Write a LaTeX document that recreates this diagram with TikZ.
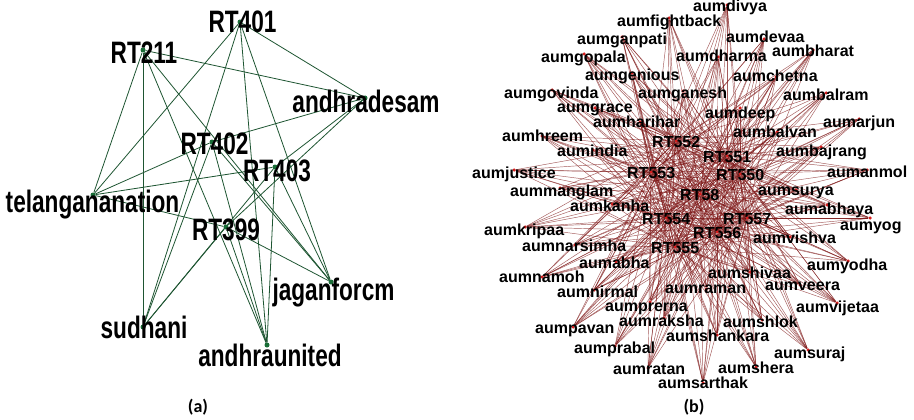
\documentclass[tikz,border=0pt]{standalone}
\usepackage{fontspec}
\setmainfont{Liberation Sans}
\newfontfamily\narrowsans{Liberation Sans}[FakeStretch=0.73]
\newfontfamily\capfont{Carlito}
\pgfdeclarelayer{background}
\pgfsetlayers{background,main}
\definecolor{gline}{RGB}{30,85,50}
\definecolor{gfill}{RGB}{25,110,55}
\definecolor{rline}{RGB}{125,20,20}
\definecolor{rfill}{RGB}{215,30,30}
\tikzset{
  gdot/.style={circle,fill=gfill,inner sep=0pt,minimum size=5pt},
  rdot/.style={circle,fill=rfill,inner sep=0pt,minimum size=3.5pt},
  gedge/.style={draw=gline,line width=0.8pt},
  redge/.style={draw=rline,line width=0.45pt,draw opacity=0.7},
  glab/.style={anchor=base,inner sep=0pt,font=\narrowsans\bfseries\fontsize{31}{31}\selectfont},
  rtlab/.style={anchor=base west,inner sep=0pt,font=\bfseries\fontsize{16}{16}\selectfont},
  caplab/.style={anchor=base,inner sep=0pt,font=\capfont\bfseries\fontsize{18}{18}\selectfont}
}
\begin{document}
\begin{tikzpicture}[x=1pt,y=-1pt]
\useasboundingbox (0,0) rectangle (914,420);
\begin{pgfonlayer}{background}
\fill[white] (0,0) rectangle (914,420);
\end{pgfonlayer}

% ---------- graph (a): retweeters and hashtags ----------
\foreach \n/\x/\y in {RT401/240/22, RT211/143/50, RT402/212/142, RT403/275/167, RT399/226/227,
  andhradesam/365/98, telangananation/93/195, jaganforcm/331/282, sudhani/143/327, andhraunited/267/345}
  \node[gdot] (\n) at (\x,\y) {};

\begin{pgfonlayer}{background}
\foreach \r in {RT401,RT211,RT402,RT403,RT399}
  \foreach \h in {andhradesam,telangananation,jaganforcm,sudhani,andhraunited}
    \draw[gedge] (\r) -- (\h);
\end{pgfonlayer}

\foreach \n/\x/\y in {RT401/242.5/33, RT211/144/64, andhradesam/366/113, RT402/214.5/154,
  RT403/277/181, telangananation/92.5/212, RT399/226/240, jaganforcm/333.5/300,
  sudhani/144/338, andhraunited/270/366}
  \node[glab] (lab\n) at (\x,\y) {\n};

\node[caplab] (capa) at (198,412) {(a)};

% ---------- graph (b): RT accounts and aum accounts ----------
\foreach \n/\x/\y in {552/652/147, 551/703/162, 550/716/180, 553/627/178, 58/680/200,
  554/642/224, 557/723/224, 556/693/238, 555/651/253}
  \node[rtlab] (labRT\n) at (\x,\y) {RT\n};

\foreach \n/\x/\y in {552/676/141, 551/727/156, 550/740/174, 553/651/172, 58/700/194,
  554/666/218, 557/747/218, 556/717/232, 555/675/247}
  \node[rdot] (RT\n) at (\x,\y) {};

\foreach \n/\dx/\dy/\lx/\ly in {
  fightback/669/18/617/27, ganpati/622/37/577/45, gopala/584/54/541/63,
  genious/632/73/585/81, govinda/552/90/504/99, grace/595/108/557/113,
  harihar/640/122/593/128, hreem/542/136/502/142, ganesh/683/91/638/99,
  divya/727/5/693/12, devaa/764/39/726/43, dharma/718/57/676/62,
  bharat/813/50/772/57, chetna/776/77/733/82, balram/826/93/783/100,
  deep/740/108/705/118, arjun/859/119/823/128, balvan/777/132/733/138,
  bajrang/821/147/776/157, anmol/867/170/827/177, surya/796/190/758/195,
  abhaya/827/205/785/214, yog/870/218/840/230, vishva/790/237/753/243,
  yodha/848/261/807/270, shivaa/750/272/708/278, veera/800/285/765/290,
  vijetaa/837/303/796/312, shlok/762/320/723/327, shankara/717/335/666/341,
  suraj/808/350/774/358, shera/756/367/718/373, sarthak/703/383/658/388,
  raman/706/289/665/293, nirmal/594/290/557/297, prerna/650/302/605/311,
  raksha/664/318/619/326, pavan/573/327/535/333, prabal/615/346/574/353,
  ratan/648/368/613/374, namoh/542/277/499/282, india/593/150/557/156,
  justice/514/170/472/178, manglam/560/188/510/196, kanha/612/204/570/211,
  kripaa/525/227/484/235, narsimha/575/245/522/251, abha/616/262/579/268}
{
  \node[rdot] (aum\n) at (\dx,\dy) {};
  \node[rtlab] (labaum\n) at (\lx,\ly) {aum\n};
}

\begin{pgfonlayer}{background}
\foreach \r in {552,551,550,553,58,554,557,556,555}
  \foreach \a in {fightback,ganpati,gopala,genious,govinda,grace,harihar,hreem,ganesh,
    divya,devaa,dharma,bharat,chetna,balram,deep,arjun,balvan,bajrang,anmol,surya,
    abhaya,yog,vishva,yodha,shivaa,veera,vijetaa,shlok,shankara,suraj,shera,sarthak,
    raman,nirmal,prerna,raksha,pavan,prabal,ratan,namoh,india,justice,manglam,kanha,
    kripaa,narsimha,abha}
    \draw[redge] (RT\r) -- (aum\a);
\end{pgfonlayer}

\node[caplab] (capb) at (694,412) {(b)};
\end{tikzpicture}
\end{document}
